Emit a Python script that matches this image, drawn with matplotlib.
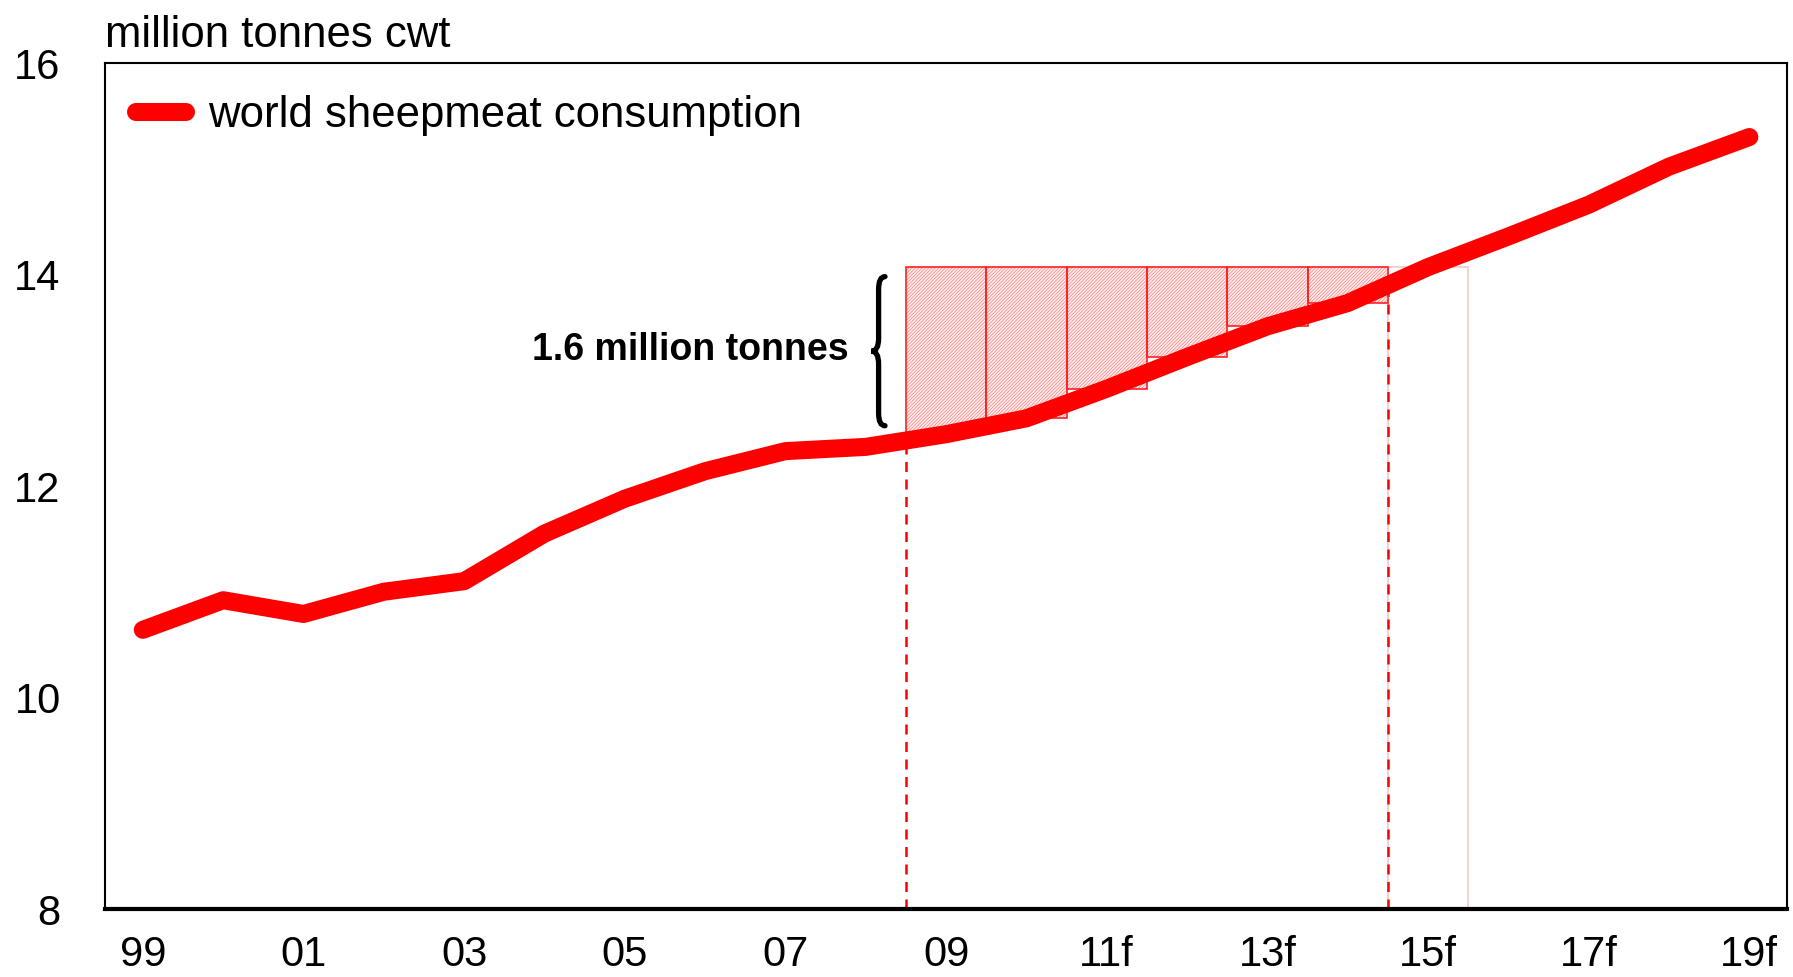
import matplotlib
matplotlib.use("Agg")
import matplotlib.pyplot as plt
from matplotlib.path import Path
from matplotlib.patches import PathPatch
import numpy as np

plt.rcParams['font.family'] = ['Liberation Sans', 'DejaVu Sans']
plt.rcParams['hatch.linewidth'] = 0.6

# ---- data ----
years = ["99", "00", "01", "02", "03", "04", "05", "06", "07", "08", "09",
         "10f", "11f", "12f", "13f", "14f", "15f", "16f", "17f", "18f", "19f"]
consumption = [10.64, 10.92, 10.79, 11.00, 11.10, 11.55, 11.88, 12.14, 12.33, 12.37,
               12.49, 12.64, 12.92, 13.22, 13.51, 13.73, 14.07, 14.36, 14.66, 15.02, 15.30]
gap_years = ["09", "10f", "11f", "12f", "13f", "14f"]
gap_top = 14.07
tick_labels = ["99", "01", "03", "05", "07", "09", "11f", "13f", "15f", "17f", "19f"]
annotation = "1.6 million tonnes"

fig = plt.figure(figsize=(17.93, 9.77), dpi=100)
ax = fig.add_axes([0.0586, 0.0696, 0.9381, 0.8659])

x = np.arange(len(years))
idx = {y: i for i, y in enumerate(years)}

# hatched gap bars
gx = np.array([idx[g] for g in gap_years])
gb = np.array([consumption[i] for i in gx])
ax.bar(gx, gap_top - gb, bottom=gb, width=1.0, facecolor='#fff0f0',
       edgecolor='#ff8a8a', hatch='//////////', linewidth=0, zorder=2)
ax.bar(gx, gap_top - gb, bottom=gb, width=1.0, facecolor='none',
       edgecolor='#ff2020', linewidth=1.2, zorder=2.5)

# faint outline bar following the gap
nxt = gx[-1] + 1
ax.bar([nxt], [gap_top - 8], bottom=8, width=1.0, facecolor='none',
       edgecolor='#f5c8c8', linewidth=1.2, zorder=1.5)

# dashed verticals at gap edges
for xe in [gx[0] - 0.5, gx[-1] + 0.5]:
    yv = np.interp(xe, x, consumption)
    ax.plot([xe, xe], [8, yv], color='#ff0000', lw=1.8, ls=(0, (4, 3)), zorder=2.2)

# main line
ax.plot(x, consumption, color='#ff0000', lw=13, solid_capstyle='round',
        solid_joinstyle='round', zorder=4, label='world sheepmeat consumption')

# brace
bx_r, bx_m, bx_l = 9.24, 9.16, 9.07
yt, yb = 13.98, 12.57
ym = (yt + yb) / 2
d = 0.12
verts = [(bx_r, yt), (bx_m, yt), (bx_m, yt - d),
         (bx_m, ym + d),
         (bx_m, ym), (bx_l, ym),
         (bx_m, ym), (bx_m, ym - d),
         (bx_m, yb + d),
         (bx_m, yb), (bx_r, yb)]
codes = [Path.MOVETO, Path.CURVE3, Path.CURVE3,
         Path.LINETO,
         Path.CURVE3, Path.CURVE3,
         Path.CURVE3, Path.CURVE3,
         Path.LINETO,
         Path.CURVE3, Path.CURVE3]
ax.add_patch(PathPatch(Path(verts, codes), facecolor='none', edgecolor='black',
                       lw=3.8, capstyle='round', zorder=5))
ax.text(8.79, 13.29, annotation, ha='right', va='center', fontsize=27,
        fontweight='bold', color='black', zorder=5)

# axes
ax.set_xlim(-0.47, 20.47)
ax.set_ylim(8, 16)
ax.set_yticks([8, 10, 12, 14, 16])
ax.set_yticklabels(["8", "10", "12", "14", "16"])
ax.set_xticks([idx[t] for t in tick_labels])
ax.set_xticklabels(tick_labels)
ax.tick_params(axis='y', length=0, labelsize=30, pad=32)
ax.tick_params(axis='x', length=0, labelsize=30, pad=19)
for s in ['left', 'top', 'right']:
    ax.spines[s].set_linewidth(1.5)
ax.spines['bottom'].set_linewidth(3)

ax.text(0.0, 1.008, "million tonnes cwt", transform=ax.transAxes, ha='left',
        va='bottom', fontsize=31.5)

leg = ax.legend(loc='upper left', bbox_to_anchor=(0.013, 0.972), frameon=False,
                fontsize=31.5, handlelength=1.15, handletextpad=0.5, borderaxespad=0,
                borderpad=0.2)
for h in leg.get_lines():
    h.set_linewidth(13)
    h.set_solid_capstyle('round')

fig.savefig("out.png", dpi=100)
